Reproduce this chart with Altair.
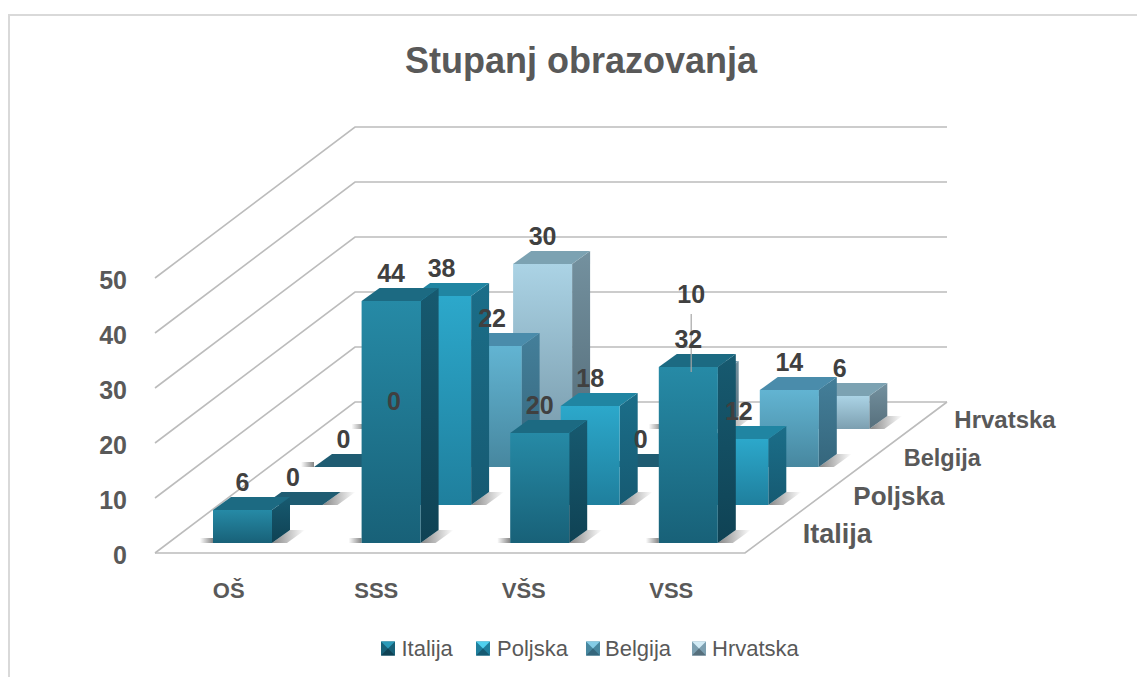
import altair as alt
import pandas as pd

title_text = "Stupanj obrazovanja"
categories = ["OŠ", "SSS", "VŠS", "VSS"]
series = ["Italija", "Poljska", "Belgija", "Hrvatska"]
italija = [6, 44, 20, 32]
poljska = [0, 38, 18, 12]
belgija = [0, 22, 0, 14]
hrvatska = [0, 30, 10, 6]
ticks = [0, 10, 20, 30, 40, 50]
values = [italija, poljska, belgija, hrvatska]

# colours per series: front (top, bottom), side (top, bottom), top face, legend highlight
front_cols = [("#268aa6", "#186178"), ("#2ca8cb", "#1f7f9d"), ("#62b4d2", "#47879f"), ("#abd3e5", "#7c9fb0")]
side_cols = [("#175a70", "#0f4254"), ("#1b6e89", "#165a72"), ("#447f9a", "#35667c"), ("#74919f", "#566f7c")]
top_cols = ["#1c6a82", "#2085a2", "#4a8cab", "#7ca2b2"]
swatch_light = ["#2b9ab8", "#4fd0ee", "#84cce6", "#d2ebf5"]
flat_col = "#1f5c72"
series_sizes = [27, 26, 23.5, 24]

W, H = 1129, 669
SLOT, UNIT = 148.6, 5.5      # px per category slot, px per value unit
X0, Y0 = 213.0, 543.0        # first Italija bar, front-left base
DEPTH_X, DEPTH_Y = 50.5, 38.0
BAR_W, TOP_X, TOP_Y = 59.0, 18.0, 13.0


def xu(px):
    return (px - X0) / SLOT


def yu(py):
    return (Y0 - py) / UNIT


def project(cat, depth, value=0.0, dx=0.0, dy=0.0):
    """Oblique projection to the chart's own (slot, value) coordinates; dx/dy in px."""
    return (cat + (depth * DEPTH_X + dx) / SLOT, value + (depth * DEPTH_Y + dy) / UNIT)


xs = alt.Scale(domain=[xu(8), xu(8 + W)], nice=False, zero=False)
ys = alt.Scale(domain=[yu(8 + H), yu(8)], nice=False, zero=False)
X = lambda f="x": alt.X(f"{f}:Q", scale=xs, axis=None)
Y = lambda f="y": alt.Y(f"{f}:Q", scale=ys, axis=None)
X2 = lambda f="x2": alt.X2(f"{f}:Q")
Y2 = lambda f="y2": alt.Y2(f"{f}:Q")


def vgrad(a, b):
    return alt.LinearGradient(gradient="linear", x1=0, x2=0, y1=0, y2=1,
                              stops=[alt.GradientStop(color=a, offset=0), alt.GradientStop(color=b, offset=1)])


def hgrad(a, b):
    return alt.LinearGradient(gradient="linear", x1=0, x2=1, y1=0, y2=0,
                              stops=[alt.GradientStop(color=a, offset=0), alt.GradientStop(color=b, offset=1)])


layers = []

# walls and floor
grid_rows = []
for t in ticks:
    for k, (px, base) in enumerate([(155, 553), (355, 402), (947, 402)]):
        grid_rows.append({"tick": t, "k": k, "x": xu(px), "y": yu(base) + t})
layers.append(alt.Chart(pd.DataFrame(grid_rows)).mark_line(color="#bcbcbc", strokeWidth=1.6).encode(
    x=X(), y=Y(), detail="tick:N", order="k:Q"))
floor = pd.DataFrame([{"k": i, "x": xu(p[0]), "y": yu(p[1])} for i, p in enumerate([(155, 553), (745, 553), (947, 402)])])
layers.append(alt.Chart(floor).mark_line(color="#bcbcbc", strokeWidth=1.6).encode(x=X(), y=Y(), order="k:Q"))

# bars, back row first
for d in [3, 2, 1, 0]:
    shadow_r, shadow_l, fronts, sides, tops, flats = [], [], [], [], [], []
    for c, v in enumerate(values[d]):
        x_l, y_b = project(c, d)
        x_r, _ = project(c, d, 0, BAR_W)
        x_rb, y_bb = project(c, d, 0, BAR_W + TOP_X, TOP_Y)
        x_lb, _ = project(c, d, 0, TOP_X)
        grow = 15 / SLOT
        shadow_r += [{"c": c, "y": y_b, "x": x_r, "x2": x_r + grow},
                     {"c": c, "y": y_bb, "x": x_rb, "x2": x_rb + grow}]
        shadow_l.append({"c": c, "x": x_l - 13 / SLOT, "x2": x_l, "y": y_b, "y2": y_b + 5 / UNIT})
        y_t = y_b + v
        y_tb = y_bb + v
        top = [{"c": c, "y": y_t, "x": x_l, "x2": x_r}, {"c": c, "y": y_tb, "x": x_lb, "x2": x_rb}]
        if v > 0:
            fronts.append({"c": c, "x": x_l, "x2": x_r, "y": y_b, "y2": y_t})
            sides += [{"c": c, "x": x_r, "y": y_b, "y2": y_t}, {"c": c, "x": x_rb, "y": y_bb, "y2": y_tb}]
            tops += top
        else:
            flats += top
    layers.append(alt.Chart(pd.DataFrame(shadow_r)).mark_area(orient="horizontal", fill=hgrad("#858585", "#ffffff")).encode(
        y=Y(), x=X(), x2=X2(), detail="c:N"))
    layers.append(alt.Chart(pd.DataFrame(shadow_l)).mark_rect(fill=hgrad("#ffffff", "#858585")).encode(
        x=X(), x2=X2(), y=Y(), y2=Y2()))
    if flats:
        layers.append(alt.Chart(pd.DataFrame(flats)).mark_area(orient="horizontal", fill=flat_col).encode(
            y=Y(), x=X(), x2=X2(), detail="c:N"))
    layers.append(alt.Chart(pd.DataFrame(sides)).mark_area(fill=vgrad(*side_cols[d])).encode(
        x=X(), y=Y(), y2=Y2(), detail="c:N"))
    layers.append(alt.Chart(pd.DataFrame(tops)).mark_area(orient="horizontal", fill=top_cols[d]).encode(
        y=Y(), x=X(), x2=X2(), detail="c:N"))
    layers.append(alt.Chart(pd.DataFrame(fronts)).mark_rect(fill=vgrad(*front_cols[d])).encode(
        x=X(), x2=X2(), y=Y(), y2=Y2()))

# data labels
label_rows = []
for d, vals in enumerate(values):
    for c, v in enumerate(vals):
        lift = 79 if (d, c) == (3, 2) else 27
        lx, ly = project(c, d, v, BAR_W / 2, lift)
        label_rows.append({"x": lx, "y": ly, "t": str(v)})

# leader line of the label that was moved up
lead_x, lead_top = project(2, 3, hrvatska[2], BAR_W / 2, 60)
_, lead_bot = project(2, 3, hrvatska[2], BAR_W / 2, 2)
layers.append(alt.Chart(pd.DataFrame([{"x": lead_x, "y": lead_top, "y2": lead_bot}])).mark_rule(color="#a6a6a6", strokeWidth=1.2).encode(
    x=X(), y=Y(), y2=Y2()))
layers.append(alt.Chart(pd.DataFrame(label_rows)).mark_text(
    font="Liberation Sans", fontWeight="bold", fontSize=25, color="#404040", baseline="middle", align="center").encode(
    x=X(), y=Y(), text="t:N"))

# value axis labels on the front-left edge
tick_df = pd.DataFrame([{"x": xu(127), "y": yu(555.5) + t, "t": str(t)} for t in ticks])
layers.append(alt.Chart(tick_df).mark_text(
    font="Liberation Sans", fontWeight="bold", fontSize=25, color="#595959", baseline="middle", align="right").encode(
    x=X(), y=Y(), text="t:N"))

# category labels
cat_df = pd.DataFrame([{"x": xu(228.75 + 147.5 * i), "y": yu(590.5), "t": t} for i, t in enumerate(categories)])
layers.append(alt.Chart(cat_df).mark_text(
    font="Liberation Sans", fontWeight="bold", fontSize=22, color="#595959", baseline="middle", align="center").encode(
    x=X(), y=Y(), text="t:N"))

# series labels on the depth axis
for d, name in enumerate(series):
    sx, sy = project(3, d, 0, 144, 8)
    layers.append(alt.Chart(pd.DataFrame([{"x": sx, "y": sy, "t": name}])).mark_text(
        font="Liberation Sans", fontWeight="bold", fontSize=series_sizes[d], color="#595959", baseline="middle", align="left").encode(
        x=X(), y=Y(), text="t:N"))

# legend
legend_swatch = [381, 476, 586, 692]
legend_text = [401.5, 497, 605, 712]
leg_y = 648.5
tri_up = "M-1,-1L1,-1L0,0Z"
tri_dn = "M-1,1L1,1L0,0Z"
for d, name in enumerate(series):
    sw = pd.DataFrame([{"x": xu(legend_swatch[d] + 7), "y": yu(leg_y)}])
    layers.append(alt.Chart(sw).mark_point(shape="square", filled=True, fill=front_cols[d][1], opacity=1, size=196).encode(x=X(), y=Y()))
    layers.append(alt.Chart(sw).mark_point(shape=tri_up, filled=True, fill=swatch_light[d], opacity=1, size=196).encode(x=X(), y=Y()))
    layers.append(alt.Chart(sw).mark_point(shape=tri_dn, filled=True, fill=side_cols[d][1], opacity=1, size=196).encode(x=X(), y=Y()))
    tx = pd.DataFrame([{"x": xu(legend_text[d]), "y": yu(leg_y), "t": name}])
    layers.append(alt.Chart(tx).mark_text(font="Liberation Sans", fontSize=22, color="#595959", baseline="middle", align="left").encode(
        x=X(), y=Y(), text="t:N"))

# title
ttl = pd.DataFrame([{"x": xu(581), "y": yu(62), "t": title_text}])
layers.append(alt.Chart(ttl).mark_text(font="Liberation Sans", fontWeight="bold", fontSize=36, color="#595959", baseline="middle", align="center").encode(
    x=X(), y=Y(), text="t:N"))

# chart-area frame
frame_top = pd.DataFrame([{"x": xu(8), "x2": xu(8 + W), "y": yu(15)}])
frame_left = pd.DataFrame([{"x": xu(9), "y": yu(15), "y2": yu(8 + H)}])
layers.append(alt.Chart(frame_top).mark_rule(color="#d9d9d9", strokeWidth=2).encode(x=X(), x2=X2(), y=Y()))
layers.append(alt.Chart(frame_left).mark_rule(color="#d9d9d9", strokeWidth=2).encode(x=X(), y=Y(), y2=Y2()))

chart = alt.layer(*layers).properties(
    width=W, height=H, padding=0, background="white",
    autosize=alt.AutoSizeParams(type="none"),
).configure_view(stroke=None)

chart.save("out.html", embed_options={"renderer": "svg", "actions": False})
